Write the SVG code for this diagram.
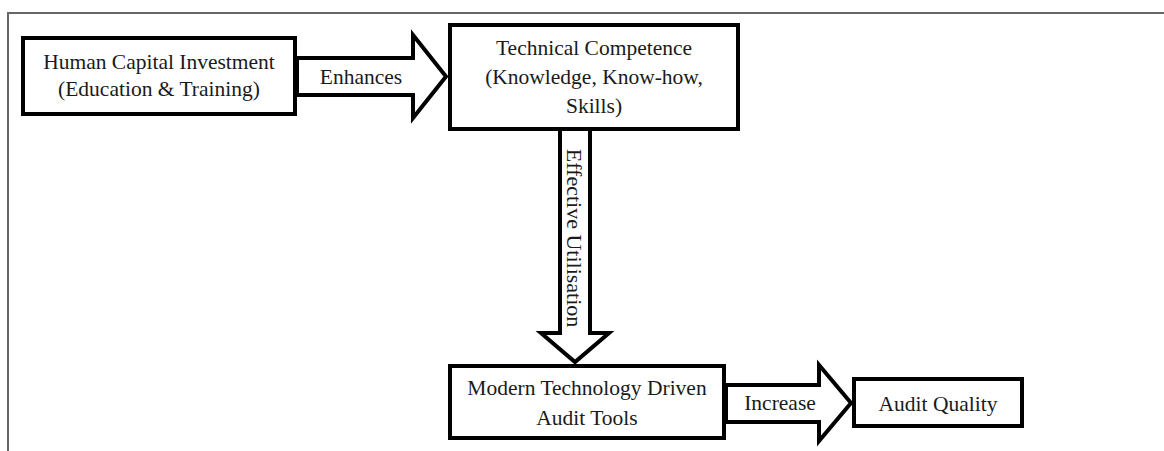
<svg xmlns="http://www.w3.org/2000/svg" width="1164" height="451" viewBox="0 0 1164 451">
  <style>
    .frame { fill: none; stroke: #666666; stroke-width: 2; }
    .box { fill: #ffffff; stroke: #000000; stroke-width: 4; }
    .arrow { fill: #ffffff; stroke: #000000; stroke-width: 4; stroke-linejoin: miter; stroke-miterlimit: 10; }
    .t { font-family: "Liberation Serif", "Times New Roman", serif; font-size: 21.5px; fill: #1a1a1a; text-anchor: middle; }
  </style>
  <rect width="1164" height="451" fill="#ffffff"/>
  <!-- outer frame: only top and left edges are visible -->
  <path class="frame" d="M8 451 V13 H1164"/>

  <g id="connectors">
    <!-- Human Capital -> Technical Competence -->
    <g id="arrow-enhances">
      <polygon class="arrow" points="297,58 413,58 413,35 446,76.5 413,118 413,95 297,95"/>
      <text class="t" x="361" y="84">Enhances</text>
    </g>
    <!-- Technical Competence -> Modern Technology -->
    <g id="arrow-utilisation">
      <polygon class="arrow" points="560,129 590,129 590,333 609,333 575,362 541,333 560,333"/>
      <text class="t" style="font-size:22px" transform="translate(574 238) rotate(90)" dominant-baseline="central">Effective Utilisation</text>
    </g>
    <!-- Modern Technology -> Audit Quality -->
    <g id="arrow-increase">
      <polygon class="arrow" points="726,385 819,385 819,365 851,403 819,441 819,422 726,422"/>
      <text class="t" x="780" y="410">Increase</text>
    </g>
  </g>

  <g id="node-human-capital">
    <rect class="box" x="23" y="38" width="272" height="76"/>
    <text class="t" x="159" y="69">Human Capital Investment</text>
    <text class="t" x="159" y="96">(Education &amp; Training)</text>
  </g>

  <g id="node-technical-competence">
    <rect class="box" x="450" y="25" width="288" height="104"/>
    <text class="t" x="594" y="55">Technical Competence</text>
    <text class="t" x="594" y="84">(Knowledge, Know-how,</text>
    <text class="t" x="594" y="113">Skills)</text>
  </g>

  <g id="node-audit-tools">
    <rect class="box" x="450" y="366" width="274" height="72"/>
    <text class="t" x="587" y="395">Modern Technology Driven</text>
    <text class="t" x="587" y="425">Audit Tools</text>
  </g>

  <g id="node-audit-quality">
    <rect class="box" x="854" y="379" width="168" height="47"/>
    <text class="t" x="938" y="411">Audit Quality</text>
  </g>
</svg>
